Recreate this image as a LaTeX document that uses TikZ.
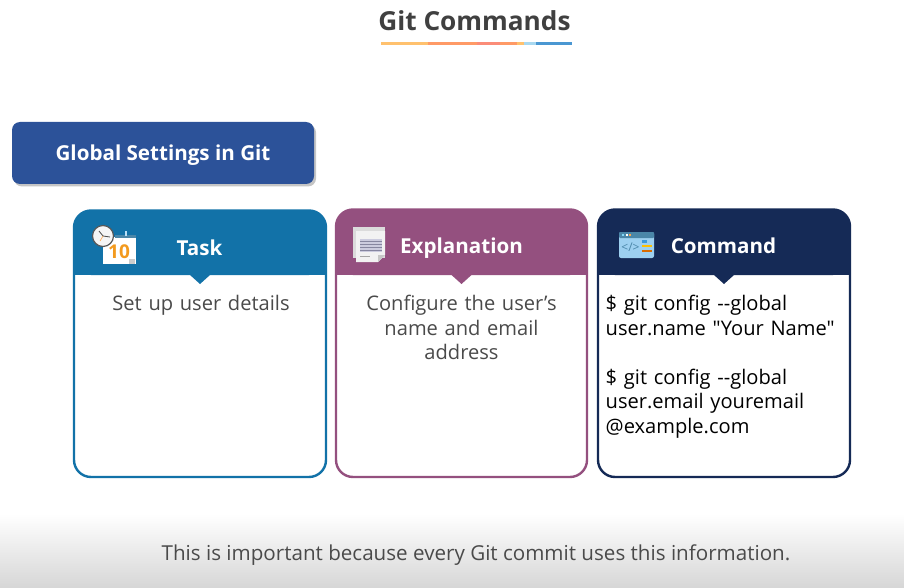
\documentclass[tikz,border=0pt]{standalone}
\usepackage{xcolor}
\usepackage{fontspec}
\setmainfont{Open Sans}
\newfontfamily\cmdfont{Open Sans}
\usepackage{tikz}
\usetikzlibrary{positioning,arrows.meta,calc,shadows}
\definecolor{taskblue}{HTML}{1272A8}
\definecolor{explainplum}{HTML}{94507F}
\definecolor{commandnavy}{HTML}{152A56}
\definecolor{settingsblue}{HTML}{2C5299}
\definecolor{bodygrey}{HTML}{4A4A4A}
\definecolor{titlegrey}{HTML}{404040}
\definecolor{barA}{HTML}{FFC16E}
\definecolor{barB}{HTML}{FF9A66}
\definecolor{barC}{HTML}{FB8C78}
\definecolor{barD}{HTML}{A8D8F0}
\definecolor{barE}{HTML}{4A97D2}
\definecolor{iconsky}{HTML}{9DD0F0}
\definecolor{iconsteel}{HTML}{4A86A8}
\definecolor{iconorange}{HTML}{F39A1E}
\definecolor{iconlines}{HTML}{A8A8C8}

\begin{document}
\begin{tikzpicture}[x=1pt, y=-1pt, font=\fontsize{20.1}{24.6}\selectfont,
  headtext/.style={text=white, anchor=base, font=\fontsize{20.6}{24}\selectfont\bfseries},
  cardtext/.style={text=bodygrey, align=center, anchor=north, text width=230pt},
  cmdtext/.style={text=black, align=left, anchor=north west, text width=240pt, inner sep=0pt}]
\useasboundingbox (0,0) rectangle (904,588);
\fill[white] (0,0) rectangle (904,588);
\shade[top color=white, bottom color=black!16] (0,514) rectangle (904,588);
% title
\node[text=titlegrey, anchor=base, font=\fontsize{26.2}{30}\selectfont\bfseries] (title) at (474.5,31) {Git Commands};
\foreach \xa/\xb/\col in {381/428/barA,428/477/barB,477/500/barC,500/517/barB,517/524/barA,524/536/barD,536/572/barE}
  \draw[line width=3pt, \col] (\xa,43.5) -- (\xb,43.5);
% banner
\node[fill=settingsblue, rounded corners=8pt, minimum width=302pt, minimum height=62pt,
  drop shadow={shadow xshift=2pt, shadow yshift=-2.5pt, opacity=0.45}] (settings) at (163,153) {};
\node[headtext] (settingstext) at (163,160.5) {Global Settings in Git};
% cards
\foreach \xa/\xb/\ya/\col in {74/326/210.5/taskblue,336/587/209.5/explainplum,598/850/209.5/commandnavy} {
  \fill[white] (\xa,\ya) rectangle (\xb,477);
  \fill[\col, rounded corners=17pt] (\xa,275) -- (\xa,\ya) -- (\xb,\ya) -- (\xb,275) -- cycle;
  \fill[\col] (\xa,262) rectangle (\xb,275);
  \fill[\col] ($(\xa,275)!0.5!(\xb,275)+(-10,0)$) -- ++(20,0) -- ++(-10,9) -- cycle;
  \draw[line width=2.4pt, \col, rounded corners=17pt] (\xa,275) -- (\xa,\ya) -- (\xb,\ya) -- (\xb,477) -- (\xa,477) -- cycle;
}
\node[headtext] (taskhead) at (199.5,255) {Task};
\node[headtext] (explainhead) at (461.5,253.5) {Explanation};
\node[headtext] (commandhead) at (723.5,253.5) {Command};
\node[cardtext] (taskbody) at (201,292) {Set up user details};
\node[cardtext] (explainbody) at (461.5,291.7) {Configure the user’s\\name and email\\address};
\node[cmdtext] (commandbody) at (605.5,295) {\cmdfont \$ git config --global\\user.name "Your Name"\\\mbox{}\\\$ git config --global\\user.email youremail\\@example.com};
% calendar icon
\fill[white] (103,237) rectangle (136,264);
\fill[iconsteel] (115,234.5) rectangle (136,238);
\fill[iconsky!70!white] (125,231) rectangle (127,236);
\node[text=iconorange, font=\fontsize{19}{20}\selectfont\bfseries] (daynum) at (119,252) {10};
\fill[black!20] (129,259) rectangle (135,264);
\node[circle, draw=black!65, line width=1.2pt, fill=black!4, minimum size=21pt, inner sep=0pt] (clock) at (103,236) {};
\draw[line width=0.8pt, black!70] (clock.center) -- ++(-4,-5);
\draw[line width=0.8pt, black!70] (clock.center) -- ++(7,1);
\draw[line width=0.6pt, orange!70] (clock.center) -- ++(-3,5);
% document icon
\fill[black!14] (353,227) rectangle (385,258);
\fill[black!5] (356,231) -- (385,231) -- (385,255) -- (378,262) -- (356,262) -- cycle;
\fill[black!22] (378,262) -- (378,255) -- (385,255) -- cycle;
\fill[iconlines!60!white] (360,239) rectangle (382,252);
\foreach \y in {241,244,...,250}
  \draw[line width=1pt, iconlines!80!black] (360,\y) -- (382,\y);
\draw[line width=1.2pt, black!35] (360,256.5) -- (370,256.5);
% code window icon
\fill[iconsky, rounded corners=2pt] (619,232) rectangle (654,258);
\fill[iconsteel, rounded corners=1pt] (619,232) rectangle (654,238);
\foreach \x/\dotcol in {622/cyan!50,625.5/white,628.5/orange!70}
  \fill[\dotcol] (\x,234) rectangle ++(2,2);
\node[text=iconsteel, font=\fontsize{12}{12}\selectfont, inner sep=0pt] (codetag) at (630.5,247) {</>};
\fill[cyan!70!blue!80] (642,240) rectangle (647,242.5);
\fill[orange!50!yellow] (642,245) rectangle (652,247);
\fill[orange!85!black] (642,249.5) rectangle (652,252);
% footer
\node[text=bodygrey, anchor=base, font=\fontsize{20.6}{24}\selectfont] (footer) at (476,560.5) {This is important because every Git commit uses this information.};
\end{tikzpicture}
\end{document}
